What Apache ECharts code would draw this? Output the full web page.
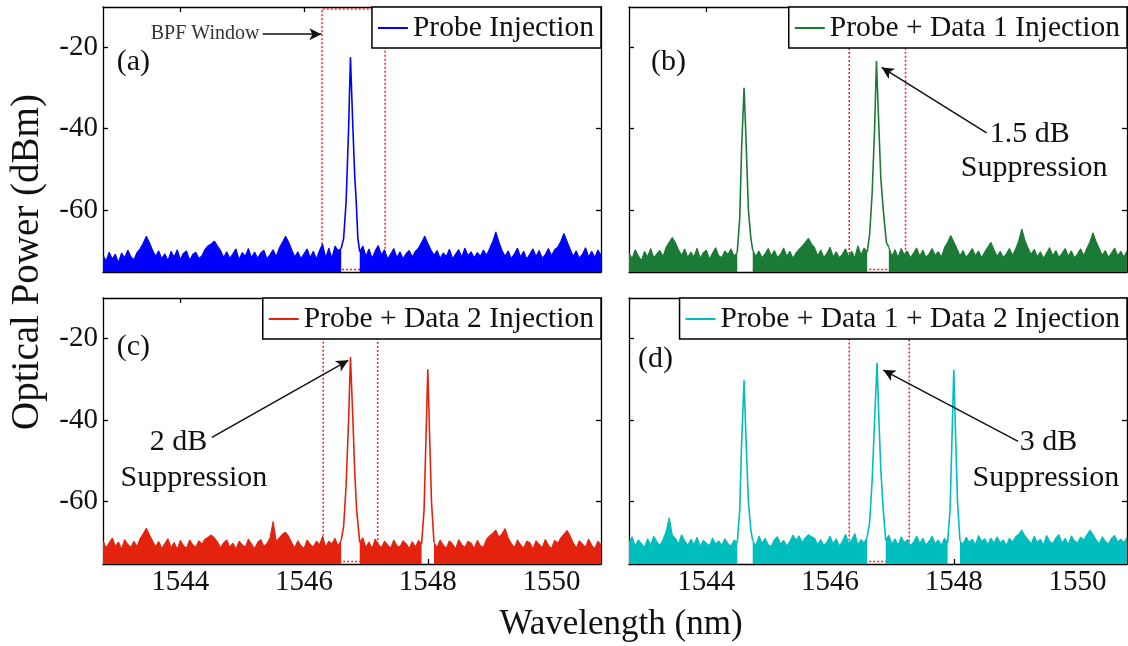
<!DOCTYPE html>
<html><head><meta charset="utf-8">
<script src="https://cdn.jsdelivr.net/npm/echarts@6/dist/echarts.min.js"></script>
<style>html,body{margin:0;padding:0;background:#fff}#chart{width:1128px;height:646px}</style>
</head><body><div id="chart"></div>
<script>
// ---------- DATA ----------
const seriesNames = ['Probe Injection', 'Probe + Data 1 Injection', 'Probe + Data 2 Injection', 'Probe + Data 1 + Data 2 Injection'];
const panelLabels = ['(a)', '(b)', '(c)', '(d)'];
const xTickValues = [1544, 1546, 1548, 1550];
const yTickValues = [-60, -40, -20];

// OSA sampling grid (nm)
const wavelengthGrid = [
1542.75,1542.80,1542.85,1542.90,1542.95,1543.00,1543.05,1543.10,1543.15,1543.20,
1543.25,1543.30,1543.35,1543.40,1543.45,1543.50,1543.55,1543.60,1543.65,1543.70,
1543.75,1543.80,1543.85,1543.90,1543.95,1544.00,1544.05,1544.10,1544.15,1544.20,
1544.25,1544.30,1544.35,1544.40,1544.45,1544.50,1544.55,1544.60,1544.65,1544.70,
1544.75,1544.80,1544.85,1544.90,1544.95,1545.00,1545.05,1545.10,1545.15,1545.20,
1545.25,1545.30,1545.35,1545.40,1545.45,1545.50,1545.55,1545.60,1545.65,1545.70,
1545.75,1545.80,1545.85,1545.90,1545.95,1546.00,1546.05,1546.10,1546.15,1546.20,
1546.25,1546.30,1546.35,1546.40,1546.45,1546.50,1546.55,1546.60,1546.65,1546.70,
1546.75,1546.80,1546.85,1546.90,1546.95,1547.00,1547.05,1547.10,1547.15,1547.20,
1547.25,1547.30,1547.35,1547.40,1547.45,1547.50,1547.55,1547.60,1547.65,1547.70,
1547.75,1547.80,1547.85,1547.90,1547.95,1548.00,1548.05,1548.10,1548.15,1548.20,
1548.25,1548.30,1548.35,1548.40,1548.45,1548.50,1548.55,1548.60,1548.65,1548.70,
1548.75,1548.80,1548.85,1548.90,1548.95,1549.00,1549.05,1549.10,1549.15,1549.20,
1549.25,1549.30,1549.35,1549.40,1549.45,1549.50,1549.55,1549.60,1549.65,1549.70,
1549.75,1549.80,1549.85,1549.90,1549.95,1550.00,1550.05,1550.10,1550.15,1550.20,
1550.25,1550.30,1550.35,1550.40,1550.45,1550.50,1550.55,1550.60,1550.65,1550.70,
1550.75,1550.80];

// Noise floor (dBm) on the grid above; null where a carrier peak sits
const noiseA = [
-71.2,-72.6,-70.4,-72.1,-70.9,-73.0,-70.6,-71.8,-69.9,-71.5,
-72.3,-70.5,-69.6,-68.2,-66.5,-68.0,-69.9,-71.4,-70.1,-72.0,
-70.8,-72.5,-70.2,-71.6,-69.8,-72.2,-70.7,-70.1,-72.4,-71.0,
-70.4,-72.0,-71.3,-69.7,-68.8,-68.4,-67.7,-68.9,-70.0,-71.7,
-70.3,-71.9,-70.8,-69.6,-72.3,-70.5,-71.4,-69.5,-71.8,-70.4,
-71.9,-70.6,-69.9,-72.1,-71.0,-69.8,-71.5,-69.4,-68.0,-66.5,
-67.9,-69.8,-71.6,-70.3,-72.0,-70.8,-69.6,-71.7,-70.2,-72.1,
-70.0,-68.4,-71.8,-69.4,-71.9,-68.9,-70.0,-69.5,null,null,
null,null,null,-70.3,-68.9,-71.4,-69.6,-71.9,-70.1,-68.8,
-71.1,-69.8,-72.1,-70.9,-69.5,-71.7,-70.3,-72.0,-70.8,-70.0,
-71.6,-70.2,-69.4,-68.0,-66.5,-68.2,-69.8,-71.2,-70.0,-71.9,
-70.6,-71.5,-69.7,-72.0,-70.9,-69.8,-71.6,-69.4,-71.3,-70.3,
-71.8,-70.5,-71.4,-69.9,-71.2,-69.5,-67.8,-65.4,-67.9,-70.0,
-71.4,-70.1,-72.0,-70.8,-69.4,-71.6,-70.2,-72.1,-70.9,-69.6,
-71.5,-70.0,-71.9,-71.0,-69.5,-71.3,-69.8,-69.2,-67.8,-65.8,
-67.7,-69.6,-71.4,-70.1,-71.9,-70.9,-69.3,-71.6,-70.2,-71.7,
-69.9,-71.2];
const noiseB = [
-70.6,-72.0,-69.8,-71.3,-72.5,-70.2,-71.6,-69.5,-71.8,-70.8,
-70.0,-71.5,-69.2,-68.0,-66.8,-68.1,-69.8,-71.2,-69.6,-71.7,
-70.4,-71.6,-69.4,-71.9,-70.6,-69.9,-72.1,-70.7,-69.3,-71.3,
-71.7,-70.1,-71.0,-69.6,-71.4,-70.4,null,null,null,null,
-69.9,-71.5,-70.1,-71.8,-70.8,-69.5,-71.3,-70.0,-71.7,-70.9,
-69.4,-71.4,-70.2,-71.9,-70.6,-69.7,-68.9,-68.0,-67.0,-68.4,
-69.3,-71.3,-69.9,-71.7,-70.7,-69.2,-71.6,-70.3,-71.8,-70.9,
-69.6,-71.5,-70.2,-71.9,-68.8,-71.1,-69.4,-70.4,null,null,
null,null,null,null,-69.2,-71.4,-69.8,-71.7,-69.5,-71.1,
-70.1,-71.8,-70.6,-69.4,-71.4,-69.9,-71.7,-70.8,-69.5,-71.2,
-70.3,-71.6,-69.3,-68.0,-66.3,-67.9,-69.5,-71.3,-70.0,-71.7,
-70.7,-69.5,-71.3,-70.1,-71.8,-70.4,-69.2,-68.0,-69.8,-71.4,
-70.2,-71.7,-70.8,-69.5,-71.2,-69.6,-67.6,-64.7,-67.5,-69.4,
-71.0,-69.7,-71.6,-70.3,-71.9,-70.6,-69.3,-71.3,-70.0,-71.7,
-70.7,-69.5,-71.4,-70.1,-71.8,-70.9,-69.6,-71.3,-69.5,-67.9,
-65.6,-67.8,-69.5,-71.2,-70.0,-71.7,-70.6,-69.4,-71.3,-70.2,
-71.6,-70.1];
const noiseC = [
-69.6,-71.4,-70.1,-68.9,-71.0,-69.9,-71.7,-69.3,-70.5,-71.2,
-69.7,-71.0,-69.1,-67.9,-66.5,-68.1,-69.6,-71.1,-69.8,-71.5,
-70.3,-69.1,-71.3,-70.0,-71.7,-69.5,-70.8,-71.4,-69.4,-70.6,
-71.2,-69.6,-70.4,-69.2,-68.7,-68.2,-68.9,-69.9,-71.3,-70.1,
-69.4,-71.1,-70.2,-71.6,-69.7,-70.6,-71.2,-69.2,-70.4,-71.5,
-70.0,-69.3,-71.0,-70.3,-68.9,-64.8,-69.8,-68.9,-68.0,-67.5,
-68.5,-70.1,-71.3,-69.6,-70.8,-71.5,-69.4,-70.5,-71.1,-69.7,
-70.6,-68.5,-71.2,-69.7,-70.4,-69.0,-70.9,-69.5,null,null,
null,null,null,-70.0,-68.9,-71.2,-69.9,-71.5,-69.2,-70.5,
-71.3,-69.7,-70.6,-71.4,-69.4,-70.8,-71.1,-69.6,-70.3,-71.5,
-69.8,-71.2,-69.5,-70.4,null,null,null,-70.0,-71.3,-69.4,
-70.7,-71.4,-69.6,-70.4,-71.6,-69.3,-70.6,-71.2,-69.7,-70.2,
-71.5,-69.5,-70.8,-71.2,-69.2,-68.4,-67.8,-67.0,-68.7,-67.9,
-66.6,-68.9,-70.3,-71.3,-69.4,-70.6,-71.4,-69.7,-70.1,-71.6,
-69.6,-70.5,-71.3,-69.3,-70.7,-71.5,-69.5,-70.2,-68.9,-68.0,
-67.1,-68.4,-70.1,-71.4,-69.6,-70.4,-71.2,-69.2,-70.7,-71.5,
-69.7,-70.6];
const noiseD = [
-70.0,-68.6,-70.9,-69.4,-70.3,-71.2,-69.1,-70.6,-68.5,-69.8,
-70.8,-69.3,-67.4,-63.9,-68.2,-69.0,-70.4,-68.1,-69.6,-70.7,
-69.2,-70.5,-68.7,-71.0,-69.5,-70.2,-70.8,-68.9,-70.4,-69.6,
-70.7,-69.1,-70.3,-70.9,-69.4,-70.1,null,null,null,null,
-69.6,-70.8,-68.4,-70.2,-69.0,-70.6,-71.0,-69.3,-68.6,-70.4,
-69.5,-70.9,-69.8,-68.2,-69.4,-68.4,-70.0,-68.9,-68.1,-68.6,
-69.0,-70.5,-69.3,-70.8,-69.9,-68.5,-70.3,-69.1,-70.9,-69.7,
-68.0,-70.2,-69.4,-67.8,-70.6,-69.3,-70.1,-68.7,null,null,
null,null,null,-69.5,-68.2,-70.4,-69.1,-70.7,-68.6,-70.0,
-69.3,-70.8,-69.9,-68.4,-70.2,-69.0,-70.6,-69.7,-68.5,-70.3,
-69.4,-70.7,-69.0,-70.1,null,null,null,-69.6,-70.4,-68.7,
-70.0,-69.2,-70.6,-68.3,-69.8,-69.1,-70.5,-68.9,-70.2,-68.6,
-70.1,-69.4,-70.7,-69.0,-69.9,-68.6,-68.0,-67.0,-68.4,-69.3,
-70.4,-68.5,-70.0,-69.2,-70.6,-68.3,-69.7,-70.3,-68.9,-68.1,
-70.2,-69.0,-70.5,-68.4,-69.6,-70.1,-68.7,-69.4,-68.2,-67.0,
-68.0,-69.4,-70.3,-68.6,-69.7,-70.4,-69.0,-68.3,-69.9,-69.2,
-70.1,-68.8];

// Carrier peaks [wavelength nm, power dBm]
const peakProbeA = [[1546.60,-69.5],[1546.64,-67],[1546.68,-58],[1546.72,-40],[1546.75,-22.4],[1546.79,-40],[1546.82,-52],[1546.84,-57],[1546.87,-67],[1546.90,-70.3]];
const peakData1B = [[1544.50,-70.4],[1544.54,-62],[1544.57,-45],[1544.61,-29.9],[1544.64,-42],[1544.68,-60],[1544.72,-67],[1544.75,-69.9]];
const peakProbeB = [[1546.60,-70.4],[1546.64,-66],[1546.68,-56],[1546.72,-40],[1546.75,-23.3],[1546.79,-40],[1546.82,-52],[1546.86,-60],[1546.91,-68],[1546.95,-69.2]];
const peakProbeC = [[1546.60,-69.5],[1546.64,-66],[1546.68,-56],[1546.72,-40],[1546.75,-24.5],[1546.79,-40],[1546.82,-53],[1546.85,-62],[1546.90,-70.0]];
const peakData2C = [[1547.90,-70.4],[1547.94,-62],[1547.97,-45],[1548.00,-27.5],[1548.03,-44],[1548.06,-60],[1548.10,-70.0]];
const peakData1D = [[1544.50,-70.1],[1544.54,-62],[1544.57,-46],[1544.61,-30.2],[1544.64,-44],[1544.68,-60],[1544.72,-67],[1544.75,-69.6]];
const peakProbeD = [[1546.60,-68.7],[1546.64,-65],[1546.68,-55],[1546.72,-40],[1546.76,-25.9],[1546.79,-40],[1546.82,-52],[1546.86,-62],[1546.90,-69.5]];
const peakData2D = [[1547.90,-70.1],[1547.94,-62],[1547.97,-45],[1548.00,-27.6],[1548.03,-44],[1548.06,-60],[1548.10,-69.6]];

// BPF window edges (nm)
const bpfWindows = [[1546.29, 1547.31], [1546.31, 1547.22], [1546.31, 1547.19], [1546.31, 1547.28]];

// ---------- CHART ----------
const FONT = '"Liberation Serif","Times New Roman",serif';
const colors = ['#0000ff', '#1b7a36', '#e3230e', '#00bebe'];
const noises = [noiseA, noiseB, noiseC, noiseD];
const peaks = [[peakProbeA], [peakData1B, peakProbeB], [peakProbeC, peakData2C], [peakData1D, peakProbeD, peakData2D]];
const X_MIN = 1542.75, X_MAX = 1550.8, Y_MIN = -75.3, Y_MAX = -10;
const BPF_BOTTOM = -74.7, BPF_TOP = -10.5;

// annotation anchors in data units
const notes = [
  { texts: [{ t: panelLabels[0], at: [1543.24, -23.6] }, { t: 'BPF Window', at: [1544.40, -16.7], small: true }],
    arrows: [[[1545.33, -16.7], [1546.28, -16.7]]] },
  { texts: [{ t: panelLabels[1], at: [1543.39, -23.6] }, { t: '1.5 dB', at: [1549.23, -41.4] }, { t: 'Suppression', at: [1549.30, -49.6] }],
    arrows: [[[1548.53, -41.0], [1546.835, -24.9]]] },
  { texts: [{ t: panelLabels[2], at: [1543.24, -22.1] }, { t: '2 dB', at: [1543.97, -45.4] }, { t: 'Suppression', at: [1544.22, -54.3] }],
    arrows: [[[1544.51, -44.2], [1546.715, -25.3]]] },
  { texts: [{ t: panelLabels[3], at: [1543.18, -25.1] }, { t: '3 dB', at: [1549.53, -45.4] }, { t: 'Suppression', at: [1549.49, -54.2] }],
    arrows: [[[1549.04, -45.2], [1546.86, -27.7]]] }
];

const grids = [
  { left: 103, top: 7, width: 498, height: 265 },
  { left: 629, top: 7, width: 498, height: 265 },
  { left: 103, top: 298, width: 498, height: 266 },
  { left: 629, top: 298, width: 498, height: 266 }
].map(g => Object.assign({ outerBoundsMode: 'none', containLabel: false, show: false }, g));

const axisLineStyle = { color: '#000', width: 1.3 };
const xAxes = [], yAxes = [];
grids.forEach((g, i) => {
  ['bottom', 'top'].forEach(pos => {
    xAxes.push({
      type: 'value', gridIndex: i, position: pos, min: X_MIN, max: X_MAX,
      axisLine: { show: true, onZero: false, lineStyle: axisLineStyle },
      axisTick: { show: true, inside: true, length: 5, customValues: xTickValues, lineStyle: axisLineStyle },
      axisLabel: { show: pos === 'bottom' && i >= 2, customValues: xTickValues, formatter: v => String(v),
                   fontSize: 29, fontFamily: FONT, color: '#111', margin: 4 },
      splitLine: { show: false }
    });
  });
  ['left', 'right'].forEach(pos => {
    yAxes.push({
      type: 'value', gridIndex: i, position: pos, min: Y_MIN, max: Y_MAX,
      axisLine: { show: true, onZero: false, lineStyle: axisLineStyle },
      axisTick: { show: true, inside: true, length: 5, customValues: yTickValues, lineStyle: axisLineStyle },
      axisLabel: { show: pos === 'left' && i % 2 === 0, customValues: yTickValues, formatter: v => String(v),
                   fontSize: 29, fontFamily: FONT, color: '#111', margin: 5 },
      splitLine: { show: false }
    });
  });
});

const series = [];
noises.forEach((noise, i) => {
  const name = seriesNames[i];
  const color = colors[i];
  series.push({
    type: 'line', name, xAxisIndex: 2 * i, yAxisIndex: 2 * i,
    data: wavelengthGrid.map((w, k) => [w, noise[k] === null ? '-' : noise[k]]),
    symbol: 'none', showSymbol: false, connectNulls: false, silent: true, z: 2,
    lineStyle: { color, width: 1.1 }, itemStyle: { color },
    areaStyle: { color, opacity: 1, origin: 'start' },
    markArea: {
      silent: true,
      itemStyle: { color: 'rgba(0,0,0,0)', borderColor: '#ff1a1a', borderWidth: 1.5, borderType: [2, 2] },
      data: [[{ coord: [bpfWindows[i][0], BPF_BOTTOM] }, { coord: [bpfWindows[i][1], BPF_TOP] }]]
    }
  });
  peaks[i].forEach((pk, j) => {
    const s = {
      type: 'line', name, xAxisIndex: 2 * i, yAxisIndex: 2 * i, data: pk,
      symbol: 'none', showSymbol: false, silent: true, z: 3,
      lineStyle: { color, width: 1.6 }, itemStyle: { color }
    };
    if (j === 0) {
      s.markLine = {
        silent: true, symbol: ['none', 'arrow'], symbolSize: [9, 12],
        lineStyle: { color: '#111', width: 1.5, type: 'solid' }, label: { show: false },
        data: notes[i].arrows.map(a => [{ coord: a[0] }, { coord: a[1] }])
      };
      s.markPoint = {
        silent: true, symbol: 'rect', symbolSize: 1, itemStyle: { color: 'rgba(0,0,0,0)' },
        data: notes[i].texts.map(n => ({
          name: n.t, coord: n.at,
          label: { show: true, position: 'inside', formatter: '{b}', fontFamily: FONT,
                   fontSize: n.small ? 20 : 30, color: n.small ? '#333' : '#111' }
        }))
      };
    }
    series.push(s);
  });
});

const legends = seriesNames.map((nm, i) => ({
  data: [nm], top: i < 2 ? 7 : 298, right: i % 2 ? 1 : 527,
  icon: 'rect', itemWidth: 30, itemHeight: 2, itemGap: 0,
  padding: [6, 7, 5, 6], borderColor: '#000', borderWidth: 1.5, borderRadius: 0,
  backgroundColor: '#fff', selectedMode: false,
  textStyle: { fontSize: 29.5, fontFamily: FONT, color: '#111' }
}));

const chart = echarts.init(document.getElementById('chart'), null, { renderer: 'canvas' });
chart.setOption({
  animation: false,
  backgroundColor: '#fff',
  grid: grids, xAxis: xAxes, yAxis: yAxes, series, legend: legends,
  graphic: [
    { type: 'text', x: 28, y: 262, rotation: Math.PI / 2,
      style: { text: 'Optical Power (dBm)', fontSize: 39, fontFamily: FONT, fill: '#111', align: 'center', verticalAlign: 'middle' } },
    { type: 'text', x: 621, y: 625,
      style: { text: 'Wavelength (nm)', fontSize: 35, fontFamily: FONT, fill: '#111', align: 'center', verticalAlign: 'middle' } }
  ]
});
</script></body></html>
